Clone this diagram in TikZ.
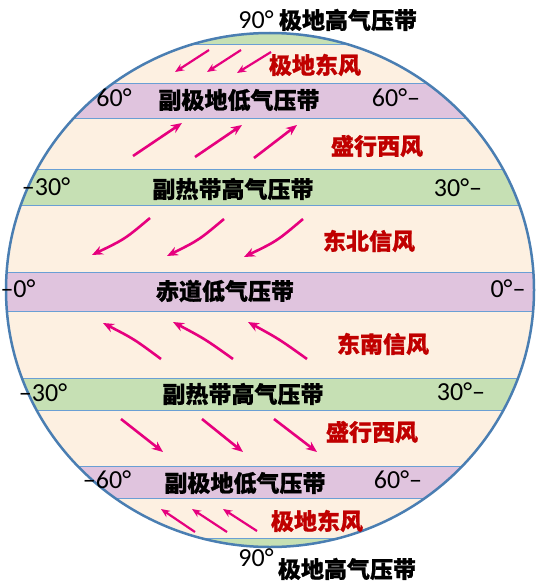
\documentclass[tikz,border=0pt]{standalone}
\usepackage{fontspec}
\setmainfont{Carlito}
\newfontfamily\cjk{Noto Sans CJK SC}[BoldFeatures={FakeBold=0.8}]
\usetikzlibrary{arrows.meta}
\definecolor{cream}{HTML}{FDF0E1}
\definecolor{bandpurple}{HTML}{E0C4DE}
\definecolor{bandgreen}{HTML}{C6E0B4}
\definecolor{rim}{HTML}{4A7EB2}
\definecolor{seam}{HTML}{6A9FD4}
\definecolor{windpink}{HTML}{E6007E}
\definecolor{windred}{HTML}{C00000}
\begin{document}
\begin{tikzpicture}[x=1pt,y=-1pt]
        \tikzset{
            belt/.style={inner sep=0pt, font=\cjk\bfseries\fontsize{23}{24}\selectfont},
            windname/.style={belt, text=windred},
            deg/.style={inner sep=0pt, font=\fontsize{26}{26}\selectfont},
            gust/.style={draw=windpink, line width=2.6pt, -{Stealth[length=11pt,width=9pt]}},
            smallgust/.style={gust, line width=2.2pt, -{Stealth[length=9pt,width=7.5pt]}}
        }
        \useasboundingbox (0,0) rectangle (543,586);
        \fill[cream] (270,290) ellipse [x radius=264pt, y radius=257pt];
        \begin{scope}
            \clip (270,290) ellipse [x radius=264pt, y radius=257pt];
            \foreach \ya/\yb/\c in {0/45/bandgreen, 83/118/bandpurple, 169/205/bandgreen,
                272/311/bandpurple, 378/410/bandgreen, 466/498/bandpurple, 538/586/bandgreen}
                \fill[\c] (0,\ya) rectangle (543,\yb);
            \foreach \y in {45,83,118,169,205,272,311,378,410,466,498,538}
                \draw[seam, line width=1pt] (0,\y) -- (543,\y);
        \end{scope}
        \draw[rim, line width=2.5pt] (270,290) ellipse [x radius=264pt, y radius=257pt];

        \foreach \sx/\sy/\ex/\ey in {209/50/175/72, 241/50/207/72, 271/52/237/73,
            195/532/161/509, 227/532/192/509, 257/531/223/509}
            \draw[smallgust] (\sx,\sy) -- (\ex,\ey);
        \foreach \sx/\sy/\ex/\ey in {133/156/182/123, 195/157/242/125, 254/158/297/125,
            121/419/163/452, 202/419/243/452, 274/419/317/452}
            \draw[gust] (\sx,\sy) -- (\ex,\ey);
        \foreach \sx/\sy/\cx/\cy/\ex/\ey in {150/218/125/239/92/255, 224/219/199/240/167/256,
            303/219/277/241/244/257, 161/359/134/339/103/323, 233/359/205/339/173/322,
            307/359/279/339/248/322}
            \draw[gust] (\sx,\sy) .. controls (\cx,\cy) .. (\ex,\ey);

        \node[deg] (top90) at (256,20) {90°};
        \node[belt] (topbelt) at (348,20) {极地高气压带};
        \node[windname] (polwN) at (315,65) {极地东风};

        \node[deg] (deg60NL) at (114,98) {60°};
        \node[belt] (belt60N) at (239,100) {副极地低气压带};
        \node[deg] (deg60NR) at (396,98) {60°–};
        \node[windname] (westN) at (377,146) {盛行西风};

        \node[deg] (deg30NL) at (46,187) {–30°};
        \node[belt] (belt30N) at (233,189) {副热带高气压带};
        \node[deg] (deg30NR) at (458,188) {30°–};
        \node[windname] (tradeNE) at (369,241) {东北信风};

        \node[deg] (deg0L) at (18,289) {–0°};
        \node[belt] (belt0) at (225,291) {赤道低气压带};
        \node[deg] (deg0R) at (508,289) {0°–};
        \node[windname] (tradeSE) at (383,344) {东南信风};

        \node[deg] (deg30SL) at (43,393) {–30°};
        \node[belt] (belt30S) at (243,394) {副热带高气压带};
        \node[deg] (deg30SR) at (461,392) {30°–};
        \node[windname] (westS) at (372,432) {盛行西风};

        \node[deg] (deg60SL) at (107,480) {–60°};
        \node[belt] (belt60S) at (245,483) {副极地低气压带};
        \node[deg] (deg60SR) at (398,480) {60°–};
        \node[windname] (polwS) at (317,521) {极地东风};

        \node[deg] (bot90) at (256,558) {90°};
        \node[belt] (botbelt) at (347,569) {极地高气压带};
\end{tikzpicture}
\end{document}
